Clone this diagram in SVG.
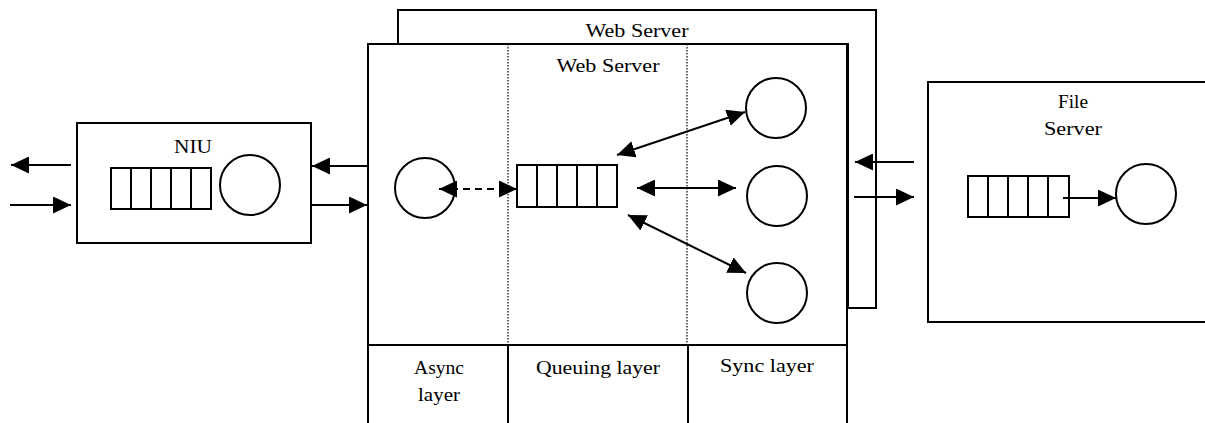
<svg xmlns="http://www.w3.org/2000/svg" width="1205" height="423" viewBox="0 0 1205 423">
<style>
.b{fill:#fff;stroke:#000;stroke-width:2}
.l{fill:none;stroke:#000;stroke-width:2}
.c{fill:#fff;stroke:#000;stroke-width:2}
.d{fill:none;stroke:#000;stroke-width:1.2;stroke-dasharray:1.5 1.5}
.a{fill:none;stroke:#000;stroke-width:2}
text{font-family:"Liberation Serif","Times New Roman",serif;font-size:19px;fill:#000;text-anchor:middle}
</style>
<defs>
<marker id="ah2" viewBox="0 0 10 10" refX="10" refY="5" markerWidth="18" markerHeight="17" markerUnits="userSpaceOnUse" orient="auto-start-reverse" preserveAspectRatio="none">
<path d="M0,0 L10,5 L0,10 Z" fill="#000"/>
</marker>
</defs>

<g id="niu">
<rect class="b" x="77" y="123" width="234" height="120"/>
<text x="193" y="153" textLength="38" lengthAdjust="spacingAndGlyphs">NIU</text>
<rect class="b" x="111" y="168" width="100" height="41"/>
<path class="l" d="M131,168V209M151,168V209M171,168V209M191,168V209"/>
<circle class="c" cx="250" cy="185" r="30"/>
</g>

<g id="web-server-back">
<path class="b" d="M398,10H876V308H848V44H398Z"/>
<text x="637" y="37" textLength="103" lengthAdjust="spacingAndGlyphs">Web Server</text>
</g>

<g id="web-server">
<path class="l" d="M368,423V44H847V423"/>
<text x="608" y="72" textLength="103" lengthAdjust="spacingAndGlyphs">Web Server</text>
<path class="d" d="M508,44V345M687,44V345"/>
<path class="l" d="M368,345H847M508,345V423M688,345V423"/>
</g>

<g id="async-layer">
<text x="439" y="374" textLength="50" lengthAdjust="spacingAndGlyphs">Async</text>
<text x="439" y="401" textLength="42" lengthAdjust="spacingAndGlyphs">layer</text>
<circle class="c" cx="425" cy="188" r="30"/>
</g>

<g id="queuing-layer">
<text x="598" y="374" textLength="124" lengthAdjust="spacingAndGlyphs">Queuing layer</text>
<rect class="b" x="517" y="165" width="100" height="42"/>
<path class="l" d="M537,165V207M557,165V207M577,165V207M597,165V207"/>
</g>

<g id="sync-layer">
<text x="767" y="372" textLength="94" lengthAdjust="spacingAndGlyphs">Sync layer</text>
<circle class="c" cx="776" cy="108" r="30"/>
<circle class="c" cx="777" cy="196" r="30"/>
<circle class="c" cx="777" cy="293" r="30"/>
</g>

<g id="file-server">
<path class="b" d="M1210,82H928V322H1210"/>
<text x="1073" y="108" textLength="30" lengthAdjust="spacingAndGlyphs">File</text>
<text x="1073" y="135" textLength="58" lengthAdjust="spacingAndGlyphs">Server</text>
<rect class="b" x="968" y="176" width="101" height="41"/>
<path class="l" d="M988,176V217M1008,176V217M1028,176V217M1048,176V217"/>
<circle class="c" cx="1146" cy="194" r="30"/>
</g>

<g id="connectors">
<line class="a" x1="71" y1="165" x2="11" y2="165" marker-end="url(#ah2)"/>
<line class="a" x1="10" y1="205" x2="71" y2="205" marker-end="url(#ah2)"/>
<line class="a" x1="367" y1="166" x2="312" y2="166" marker-end="url(#ah2)"/>
<line class="a" x1="312" y1="205" x2="367" y2="205" marker-end="url(#ah2)"/>
<line class="a" x1="439" y1="189" x2="517" y2="189" stroke-dasharray="7 5" marker-start="url(#ah2)" marker-end="url(#ah2)"/>
<line class="a" x1="617" y1="155" x2="745" y2="112" marker-start="url(#ah2)" marker-end="url(#ah2)"/>
<line class="a" x1="637" y1="188" x2="736" y2="188" marker-start="url(#ah2)" marker-end="url(#ah2)"/>
<line class="a" x1="628" y1="215" x2="746" y2="273" marker-start="url(#ah2)" marker-end="url(#ah2)"/>
<line class="a" x1="914" y1="162" x2="855" y2="162" marker-end="url(#ah2)"/>
<line class="a" x1="854" y1="197" x2="914" y2="197" marker-end="url(#ah2)"/>
<line class="a" x1="1063" y1="198" x2="1116" y2="198" marker-end="url(#ah2)"/>
</g>
</svg>
